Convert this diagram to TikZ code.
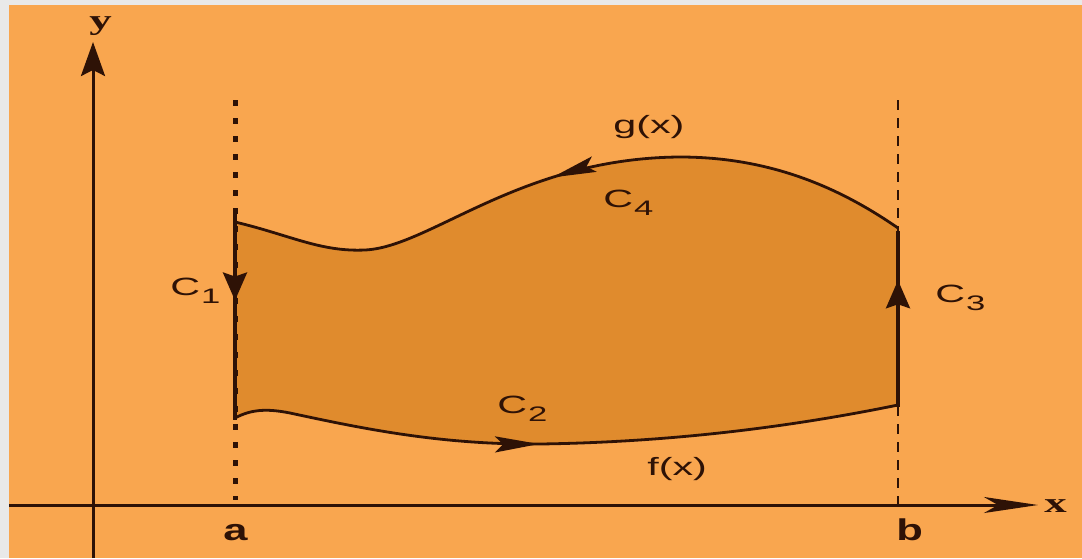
\documentclass[tikz,border=0pt]{standalone}
\usepackage{fontspec}
\setmainfont{Liberation Sans}
\newfontfamily\labelfont[FakeStretch=1.65]{Liberation Sans}
\newfontfamily\tickfont[FakeStretch=1.45]{Liberation Sans}
\newfontfamily\axisfont[FakeStretch=1.6]{Liberation Serif}
\usetikzlibrary{arrows.meta,decorations.markings}
\definecolor{paper}{HTML}{F9A64F}
\definecolor{frame}{HTML}{E9E9E9}
\definecolor{region}{HTML}{E08B2D}
\definecolor{ink}{HTML}{2E1206}
\newcommand{\Cname}[1]{C\kern0.5pt\raisebox{-4pt}{\fontsize{10.5}{10.5}\selectfont #1}}

\begin{document}
\begin{tikzpicture}[x=0.5pt,y=-0.5pt,
  ax/.style={ink,line width=1.5pt},
  bound/.style={ink,line width=1.7pt},
  rim/.style={ink,line width=1.4pt},
  vtip/.style={decoration={markings,mark=at position #1 with {\arrow{Stealth[length=14pt,width=12pt,inset=2pt]}}},postaction={decorate}},
  htip/.style={decoration={markings,mark=at position #1 with {\arrow{Stealth[length=22pt,width=8pt,inset=4pt]}}},postaction={decorate}},
  lbl/.style={text=ink,inner sep=0pt,anchor=base west,font=\labelfont\fontsize{12.5}{12.5}\selectfont},
  tick/.style={text=ink,inner sep=0pt,anchor=base west,font=\tickfont\bfseries\fontsize{15}{15}\selectfont},
  axlbl/.style={text=ink,inner sep=0pt,anchor=base west,font=\axisfont\bfseries\fontsize{14}{14}\selectfont}]
\useasboundingbox (0,0) rectangle (1082,558);
\fill[frame] (0,0) rectangle (1082,558);
\fill[paper] (9,5) rectangle (1082,558);

\coordinate (yfoot) at (93,558);
\coordinate (ytip) at (93,42);
\coordinate (xfoot) at (9,505);
\coordinate (xtip) at (1038,505);
\coordinate (aTop) at (235,100);
\coordinate (aAxis) at (235,500);
\coordinate (bTop) at (898,100);
\coordinate (bAxis) at (898,505);
\coordinate (aT) at (235,214);
\coordinate (aB) at (235,420);
\coordinate (bT) at (898,231);
\coordinate (bB) at (898,407);
\coordinate (gL) at (235,222);
\coordinate (gR) at (898,228);
\coordinate (fL) at (235,418);
\coordinate (fR) at (898,405);

\fill[region] (gL) .. controls (290,235) and (320,252) .. (365,250)
  .. controls (430,247) and (520,158) .. (680,157)
  .. controls (780,157) and (850,195) .. (gR) -- (fR)
  .. controls (800,425) and (680,442) .. (540,444)
  .. controls (440,445) and (360,428) .. (290,413)
  .. controls (265,408) and (250,410) .. (fL) -- cycle;

\draw[ink,line width=2.5pt,dash pattern=on 3pt off 6pt] (aTop) -- (aAxis);
\draw[ink,line width=1.2pt,dash pattern=on 5pt off 4pt] (bTop) -- (bAxis);

\draw[ax,-{Stealth[length=17pt,width=12pt,inset=3pt]}] (yfoot) -- (ytip);
\draw[ax,-{Stealth[length=27pt,width=8pt,inset=7pt]}] (xfoot) -- (xtip);

\draw[bound,vtip=0.42] (aT) -- (aB);
\draw[bound,vtip=0.72] (bB) -- (bT);
\draw[rim,htip=0.52] (gR) .. controls (850,195) and (780,157) .. (680,157)
  .. controls (520,158) and (430,247) .. (365,250)
  .. controls (320,252) and (290,235) .. (gL);
\draw[rim,htip=0.46] (fL) .. controls (250,410) and (265,408) .. (290,413)
  .. controls (360,428) and (440,445) .. (540,444)
  .. controls (680,442) and (800,425) .. (fR);

\node[axlbl] (ylab) at (89,29) {y};
\node[axlbl] (xlab) at (1044,512) {x};
\node[tick] (alab) at (223,540) {a};
\node[tick] (blab) at (896,540) {b};
\node[lbl] (c1) at (170,295) {\Cname{1}};
\node[lbl] (c2) at (497,413) {\Cname{2}};
\node[lbl] (c3) at (935,302) {\Cname{3}};
\node[lbl] (c4) at (603,207) {\Cname{4}};
\node[lbl] (glab) at (613,133) {g(x)};
\node[lbl] (flab) at (647,475) {f(x)};
\end{tikzpicture}
\end{document}
